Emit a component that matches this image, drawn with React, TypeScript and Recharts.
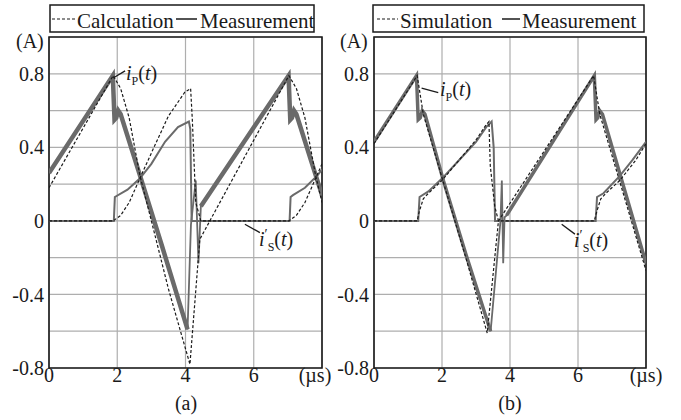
import React from "react";
import { LineChart, Line, XAxis, YAxis, CartesianGrid, ReferenceArea, ReferenceLine } from "recharts";

type Pt = [number, number];

// (a) calculation vs measurement, [t (µs), i (A)]
const calcIpA: Pt[] = [
  [0, 0.18], [1.88, 0.79], [2.1, 0.72], [2.35, 0.56], [2.66, 0.25], [3.0, 0.0], [3.5, -0.37],
  [4.13, -0.78], [4.42, -0.1], [7.03, 0.79], [7.25, 0.72], [7.5, 0.56], [7.81, 0.25], [8, 0.1],
];
const calcIsA: Pt[] = [
  [0, 0], [1.88, 0], [2.1, 0.03], [2.35, 0.1], [2.66, 0.23], [3.1, 0.41], [3.5, 0.57],
  [3.98, 0.7], [4.15, 0.72], [4.2, 0.55], [4.3, 0.1], [4.45, 0], [7.03, 0], [7.25, 0.03],
  [7.5, 0.1], [7.81, 0.23], [8, 0.31],
];
const measIpA: Pt[] = [
  [0, 0.26], [1.87, 0.79], [1.92, 0.55], [1.97, 0.56], [2.03, 0.6], [2.1, 0.58], [2.66, 0.25],
  [3.3, -0.13], [4.06, -0.59], [4.16, -0.02], [4.3, 0.22], [4.38, -0.23], [4.45, 0.08],
  [7.02, 0.79], [7.07, 0.55], [7.12, 0.56], [7.18, 0.6], [7.25, 0.58], [8, 0.14],
];
const measIsA: Pt[] = [
  [0, 0], [1.9, 0], [1.93, 0.13], [2.3, 0.17], [2.66, 0.23], [3.0, 0.31], [3.4, 0.43],
  [3.78, 0.51], [4.1, 0.54], [4.14, 0.5], [4.18, 0], [7.05, 0], [7.08, 0.13], [7.15, 0.14],
  [7.5, 0.18], [7.88, 0.25], [8, 0.28],
];

// (b) simulation vs measurement
const calcIpB: Pt[] = [
  [0, 0.42], [1.27, 0.79], [1.45, 0.58], [2.04, 0.21], [2.7, -0.2], [3.33, -0.61], [3.66, 0.0],
  [6.46, 0.79], [6.64, 0.58], [7.25, 0.2], [8, -0.27],
];
const calcIsB: Pt[] = [
  [0, 0], [1.27, 0], [1.33, 0.05], [1.45, 0.12], [1.6, 0.15], [2.0, 0.22], [2.5, 0.33],
  [3.0, 0.44], [3.25, 0.51], [3.38, 0.54], [3.42, 0.3], [3.55, 0.08], [3.66, 0], [6.48, 0],
  [6.55, 0.05], [6.67, 0.12], [6.82, 0.15], [7.23, 0.22], [7.7, 0.33], [8, 0.42],
];
const measIpB: Pt[] = [
  [0, 0.43], [1.25, 0.79], [1.3, 0.55], [1.36, 0.56], [1.42, 0.6], [1.5, 0.58], [2.04, 0.22],
  [2.7, -0.18], [3.43, -0.6], [3.72, 0.0], [3.76, 0.22], [3.8, -0.23], [3.84, 0.02], [3.9, 0.03],
  [6.48, 0.79], [6.53, 0.55], [6.58, 0.56], [6.64, 0.6], [6.72, 0.58], [8, -0.23],
];
const measIsB: Pt[] = [
  [0, 0], [1.3, 0], [1.34, 0.13], [1.6, 0.16], [2.0, 0.23], [2.5, 0.33], [3.0, 0.43],
  [3.3, 0.51], [3.46, 0.54], [3.52, 0.4], [3.56, 0], [6.52, 0], [6.56, 0.13], [6.75, 0.15],
  [7.23, 0.245], [7.6, 0.33], [8, 0.43],
];

// switching transients where the measured trace is thin
const thinA: Pt = [4.07, 4.44];
const thinB: Pt = [3.44, 3.88];

const xTicks = [0, 2, 4, 6, 8];
const yTicks = [-0.8, -0.6, -0.4, -0.2, 0, 0.2, 0.4, 0.6, 0.8, 1.0];
const yLabelled = [-0.8, -0.4, 0, 0.4, 0.8];

const FONT = '"Liberation Serif", "Times New Roman", serif';
const GRAY = "#6a6a6a";
const INK = "#1a1a1a";

const rows = (pts: Pt[]) => pts.map(([t, v]) => ({ t, v }));
const band = (pts: Pt[], win: Pt) =>
  pts.map(([t, v]) => ({ t, v: t > win[0] && t < win[1] ? null : v }));

const fmtY = (v: number) => {
  const r = Math.round(v * 10) / 10;
  if (!yLabelled.includes(r)) return "";
  return r === 0 ? "0" : r.toFixed(1);
};

const XTick = ({ x, y, payload, lastDx }: any) => (
  <text
    x={x + (payload.value === 8 ? lastDx : 0)}
    y={y}
    dy="0.71em"
    textAnchor="middle"
    fontFamily={FONT}
    fontSize={20}
    fill={INK}
  >
    {payload.value === 8 ? "(µs)" : String(payload.value)}
  </text>
);

interface PanelProps {
  left: number;
  width: number;
  marginRight: number;
  calcIp: Pt[];
  calcIs: Pt[];
  measIp: Pt[];
  measIs: Pt[];
  thin: Pt;
  ipWidth: number;
  leaders: { x: number; y: number }[][];
  lastDx: number;
}

const Panel: React.FC<PanelProps> = ({
  left, width, marginRight, calcIp, calcIs, measIp, measIs, thin, ipWidth, leaders, lastDx,
}) => (
  <div style={{ position: "absolute", left, top: 0 }}>
    <LineChart width={width} height={420} margin={{ top: 37, right: marginRight, bottom: 0, left: 0 }}>
      <CartesianGrid stroke="#aeaeae" strokeWidth={1.2} />
      <XAxis
        type="number"
        dataKey="t"
        domain={[0, 8]}
        ticks={xTicks}
        interval={0}
        allowDataOverflow
        height={52}
        tickSize={0}
        tickMargin={0}
        axisLine={false}
        tickLine={false}
        tick={(p: any) => <XTick {...p} lastDx={lastDx} />}
      />
      <YAxis
        type="number"
        domain={[-0.8, 1.0]}
        ticks={yTicks}
        interval={0}
        allowDataOverflow
        width={49}
        tickSize={0}
        tickMargin={5}
        axisLine={false}
        tickLine={false}
        tickFormatter={fmtY}
        tick={{ fontFamily: FONT, fontSize: 20, fill: INK }}
      />
      <Line data={rows(measIs)} dataKey="v" stroke={GRAY} strokeWidth={2} dot={false} isAnimationActive={false} />
      <Line data={rows(measIp)} dataKey="v" stroke={GRAY} strokeWidth={1.8} dot={false} isAnimationActive={false} />
      <Line data={band(measIp, thin)} dataKey="v" stroke={GRAY} strokeWidth={ipWidth} dot={false} isAnimationActive={false} />
      <Line data={rows(calcIs)} dataKey="v" stroke={INK} strokeWidth={1.2} strokeDasharray="3 2" dot={false} isAnimationActive={false} />
      <Line data={rows(calcIp)} dataKey="v" stroke={INK} strokeWidth={1.2} strokeDasharray="3 2" dot={false} isAnimationActive={false} />
      {leaders.map((seg, i) => (
        <ReferenceLine key={i} segment={seg} stroke={INK} strokeWidth={1.3} ifOverflow="visible" />
      ))}
      <ReferenceArea x1={0} x2={8} y1={-0.8} y2={1.0} fill="none" stroke={INK} strokeWidth={1.6} ifOverflow="visible" />
    </LineChart>
  </div>
);

const IpLabel = ({ x, y }: { x: number; y: number }) => (
  <text x={x} y={y} fontFamily={FONT} fontSize={20} fill={INK}>
    <tspan fontStyle="italic">i</tspan>
    <tspan fontSize={12} dy={5}>P</tspan>
    <tspan dy={-5}>(</tspan>
    <tspan fontStyle="italic">t</tspan>
    <tspan>)</tspan>
  </text>
);

const IsLabel = ({ x, y }: { x: number; y: number }) => (
  <text x={x} y={y} fontFamily={FONT} fontSize={20} fill={INK}>
    <tspan fontStyle="italic">i</tspan>
    <tspan fontSize={14} dy={-7}>′</tspan>
    <tspan fontSize={12} dy={12}>S</tspan>
    <tspan dy={-5}>(</tspan>
    <tspan fontStyle="italic">t</tspan>
    <tspan>)</tspan>
  </text>
);

const LegendBox = ({ x0, x1, dash, txt1, sol, txt2, label }: any) => (
  <g fontFamily={FONT} fontSize={21} fill={INK}>
    <rect x={x0} y={5} width={x1 - x0} height={27} fill="#fff" stroke={INK} strokeWidth={1.5} />
    <line x1={dash[0]} x2={dash[1]} y1={19} y2={19} stroke={INK} strokeWidth={1.2} strokeDasharray="3 2" />
    <text x={txt1} y={28}>{label}</text>
    <line x1={sol[0]} x2={sol[1]} y1={19} y2={19} stroke={INK} strokeWidth={1.5} />
    <text x={txt2} y={28}>Measurement</text>
  </g>
);

export default function App() {
  return (
    <div style={{ position: "absolute", left: 0, top: 0, width: 681, height: 420, background: "#fff", overflow: "hidden" }}>
      <Panel
        left={0}
        width={340}
        marginRight={18}
        calcIp={calcIpA}
        calcIs={calcIsA}
        measIp={measIpA}
        measIs={measIsA}
        thin={thinA}
        ipWidth={4.5}
        lastDx={-7}
        leaders={[
          [{ x: 1.88, y: 0.777 }, { x: 2.23, y: 0.816 }],
          [{ x: 5.74, y: -0.018 }, { x: 6.18, y: -0.064 }],
        ]}
      />
      <Panel
        left={325}
        width={356}
        marginRight={35}
        calcIp={calcIpB}
        calcIs={calcIsB}
        measIp={measIpB}
        measIs={measIsB}
        thin={thinB}
        ipWidth={3.5}
        lastDx={0}
        leaders={[
          [{ x: 1.4, y: 0.722 }, { x: 1.89, y: 0.698 }],
          [{ x: 5.52, y: -0.018 }, { x: 5.91, y: -0.072 }],
        ]}
      />
      <svg width={681} height={420} style={{ position: "absolute", left: 0, top: 0, pointerEvents: "none" }}>
        <LegendBox x0={50} x1={314} dash={[52, 75]} txt1={77} sol={[176, 197]} txt2={200} label="Calculation" />
        <LegendBox x0={373} x1={644} dash={[377, 398]} txt1={400} sol={[502, 520]} txt2={522} label="Simulation" />
        <g fontFamily={FONT} fontSize={20} fill={INK}>
          <text x={16} y={48}>(A)</text>
          <text x={340} y={48}>(A)</text>
          <text x={186} y={410} textAnchor="middle">(a)</text>
          <text x={510} y={410} textAnchor="middle">(b)</text>
        </g>
        <IpLabel x={126} y={80} />
        <IpLabel x={440} y={96} />
        <IsLabel x={259} y={246} />
        <IsLabel x={574} y={247} />
      </svg>
    </div>
  );
}
